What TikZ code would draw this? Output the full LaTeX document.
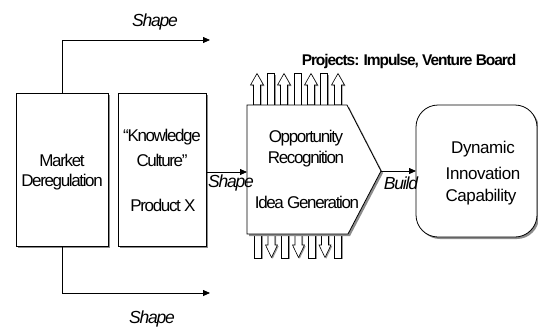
\documentclass[tikz,border=0pt]{standalone}
\usepackage{fontspec}
\setmainfont{Liberation Sans}[LetterSpace=-7]
\newfontfamily\tightsans{Liberation Sans}[LetterSpace=-8]
\newfontfamily\loosesans{Liberation Sans}[LetterSpace=-2.5]
\usetikzlibrary{shadows,arrows.meta,calc}

% small block arrows above and below the opportunity stage
\newcommand{\upflow}[1]{%
  \path[blk] (#1-3.5,105) -- (#1-3.5,85) -- (#1-6.5,85) -- (#1,73.5)
    -- (#1+6.5,85) -- (#1+3.5,85) -- (#1+3.5,105) -- cycle;}
\newcommand{\downflow}[1]{%
  \path[blk] (#1-3.5,234) -- (#1-3.5,245) -- (#1-6,245) -- (#1,257.5)
    -- (#1+6,245) -- (#1+3.5,245) -- (#1+3.5,234) -- cycle;}
\newcommand{\barflow}[3]{%
  \path[blk] (#1-3.5,#2) rectangle (#1+3.5,#3);}

\begin{document}
\begin{tikzpicture}[x=1pt,y=-1pt,
  every node/.style={inner sep=0pt, outer sep=0pt},
  shade/.style={drop shadow={shadow xshift=2pt, shadow yshift=-2pt,
      fill=black!45, opacity=1}},
  box/.style={draw=black, fill=white, line width=0.8pt, shade},
  blk/.style={draw=black, fill=white, line width=0.6pt,
      drop shadow={shadow xshift=1.2pt, shadow yshift=-1.2pt,
      fill=black!40, opacity=1}},
  flow/.style={-{Triangle[length=7pt,width=6pt]}, line width=0.8pt},
  txt/.style={font=\fontsize{17}{20}\tightsans, anchor=center},
  big/.style={font=\fontsize{17}{20}\loosesans, anchor=center},
  lab/.style={font=\fontsize{17.5}{20}\selectfont\itshape, anchor=center},
  head/.style={font=\fontsize{15.5}{18}\selectfont\bfseries, anchor=center}]

\useasboundingbox (0,0) rectangle (538,327);

% the two source boxes
\node[box, minimum width=92pt, minimum height=153pt] (mkt) at (62,169.5) {};
\node[box, minimum width=88pt, minimum height=153pt] (know) at (162,169.5) {};

\node[txt] (mkt1) at (62,160) {Market};
\node[txt] (mkt2) at (62,182) {Deregulation};
\node[txt] (know1) at (162,137) {“Knowledge};
\node[txt] (know2) at (162,160) {Culture”};
\node[txt] (know3) at (163,205) {Product X};

% flows above and below the opportunity stage
\foreach \x in {257,284,311,338} {\upflow{\x}}
\foreach \x in {271,297.5,324} {\barflow{\x}{73.5}{105}}
\foreach \x in {258,285,312,338} {\barflow{\x}{234}{258}}
\foreach \x in {271.5,298.5,325} {\downflow{\x}}

% opportunity stage (pentagon pointing right)
\path[box] (247,105) -- (347,105) -- (381,171) -- (348,234) -- (247,234) -- cycle;
\coordinate (opp-w) at (247,172);
\coordinate (opp-e) at (381,171);
\node[txt] (opp1) at (306,138) {Opportunity};
\node[txt] (opp2) at (306,159) {Recognition};
\node[txt] (opp3) at (307,202) {Idea Generation};

% outcome
\node[box, rounded corners=22pt, minimum width=121pt,
      minimum height=132pt] (dyn) at (476.5,171) {};
\node[big] (dyn1) at (483,149) {Dynamic};
\node[big] (dyn2) at (483,173) {Innovation};
\node[big] (dyn3) at (481,197) {Capability};

\node[head] (proj) at (409,61) {Projects: Impulse, Venture Board};

% connectors
\coordinate (topend) at (210,40);
\coordinate (botend) at (210,293);
\draw[flow] (mkt.north) |- (topend);
\draw[flow] (mkt.south) |- (botend);
\draw[flow] (know.east |- opp-w) -- (opp-w);
\draw[flow] (opp-e) -- (dyn.west |- opp-e);

\node[lab] (shape1) at (155,22) {Shape};
\node[lab] (shape2) at (152,319) {Shape};
\node[lab] (shape3) at (231,183) {Shape};
\node[lab] (build) at (401,183) {Build};
\end{tikzpicture}
\end{document}
